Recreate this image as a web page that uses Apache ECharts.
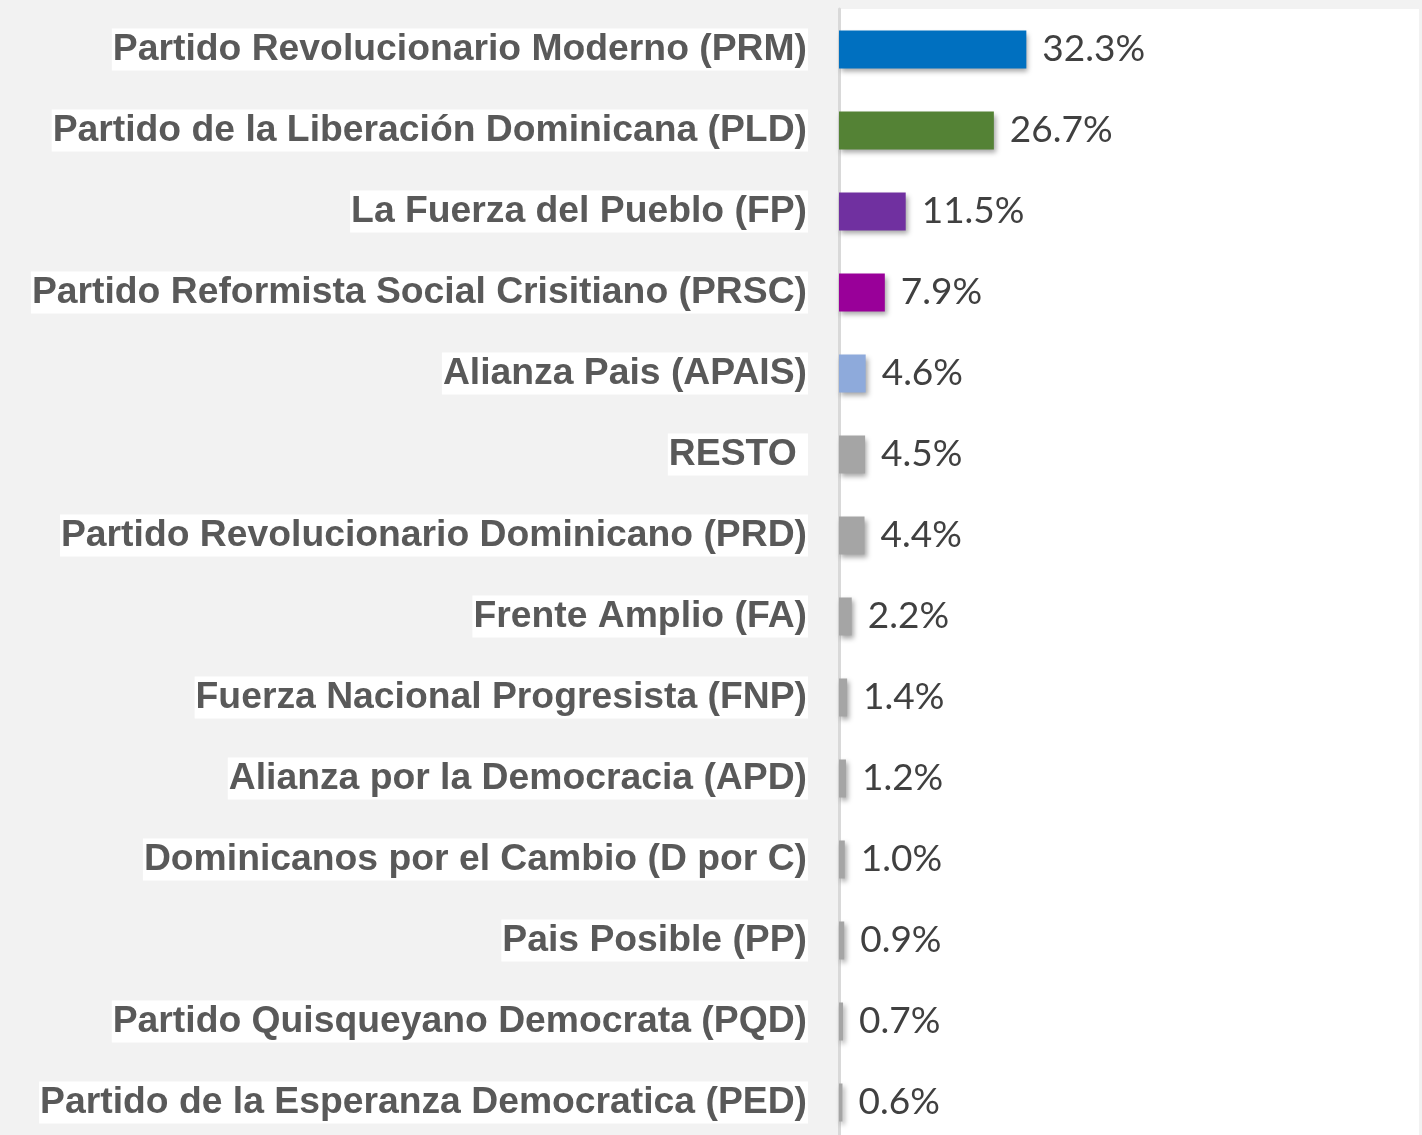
<!DOCTYPE html>
<html>
<head>
<meta charset="utf-8">
<script src="https://cdn.jsdelivr.net/npm/echarts@6/dist/echarts.min.js"></script>
<style>
html,body{margin:0;padding:0;background:#f2f2f2;overflow:hidden;}
#chart{width:1422px;height:1144px;}
</style>
</head>
<body>
<div id="chart"></div>
<script>
const categories = [
  "Partido Revolucionario Moderno (PRM)",
  "Partido de la Liberación Dominicana (PLD)",
  "La Fuerza del Pueblo (FP)",
  "Partido Reformista Social Crisitiano (PRSC)",
  "Alianza Pais (APAIS)",
  "RESTO ",
  "Partido Revolucionario Dominicano (PRD)",
  "Frente Amplio (FA)",
  "Fuerza Nacional Progresista (FNP)",
  "Alianza por la Democracia (APD)",
  "Dominicanos por el Cambio (D por C)",
  "Pais Posible (PP)",
  "Partido Quisqueyano Democrata (PQD)",
  "Partido de la Esperanza Democratica (PED)"
];
const values = [32.3, 26.7, 11.5, 7.9, 4.6, 4.5, 4.4, 2.2, 1.4, 1.2, 1.0, 0.9, 0.7, 0.6];
const barColors = ["#0070c0", "#548235", "#7030a0", "#990099", "#8eaadb",
  "#a5a5a5", "#a5a5a5", "#a5a5a5", "#a5a5a5", "#a5a5a5", "#a5a5a5", "#a5a5a5", "#a5a5a5", "#a5a5a5"];

const chart = echarts.init(document.getElementById('chart'), null, {renderer: 'canvas'});
chart.setOption({
  backgroundColor: '#f2f2f2',
  animation: false,
  grid: {
    left: 839, right: 3, top: 9, bottom: 1,
    show: true, backgroundColor: '#ffffff', borderWidth: 0
  },
  xAxis: {
    type: 'value', min: 0, max: 100,
    show: false
  },
  yAxis: {
    type: 'category', data: categories, inverse: true,
    axisLine: {show: true, lineStyle: {color: '#d9d9d9', width: 3}},
    axisTick: {show: false},
    axisLabel: {
      color: '#595959', fontFamily: 'Liberation Sans, Arial, sans-serif',
      fontWeight: 'bold', fontSize: 37.3, margin: 31,
      backgroundColor: '#ffffff', padding: [3, 1, 2, 1]
    }
  },
  series: [{
    type: 'bar',
    data: values.map((v, i) => ({
      value: v,
      itemStyle: {color: barColors[i]}
    })),
    barWidth: 38,
    itemStyle: {
      shadowBlur: 5, shadowOffsetX: 2, shadowOffsetY: 3,
      shadowColor: 'rgba(0,0,0,0.35)'
    },
    label: {
      show: true, position: 'right', distance: 16,
      formatter: p => p.value.toFixed(1) + '%',
      color: '#404040', fontSize: 37, padding: [3, 0, 0, 0],
      fontFamily: 'Lato, sans-serif'
    }
  }]
});
</script>
</body>
</html>
